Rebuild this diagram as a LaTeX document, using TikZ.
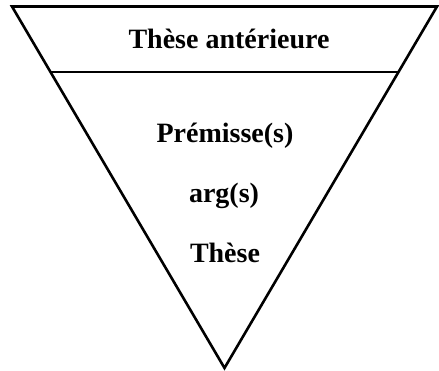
\documentclass[tikz,border=0pt]{standalone}
\usepackage{fontspec}
\setmainfont{Liberation Serif}
\usetikzlibrary{calc}
\begin{document}
\begin{tikzpicture}[x=1pt,y=1pt,
  edge/.style={line width=2.6pt,line join=miter},
  sep/.style={line width=1.8pt},
  lbl/.style={anchor=base,inner sep=0pt,font=\fontsize{28}{32}\selectfont\bfseries}]
\useasboundingbox (0,0) rectangle (439,-371);
\coordinate (tl) at (12,-6.5);
\coordinate (tr) at (437,-6.5);
\coordinate (ap) at (224.5,-368);
\draw[edge] (tl) -- (tr) -- (ap) -- cycle;
\coordinate (sl) at ($(tl)!0.181!(ap)$);
\coordinate (sr) at ($(tr)!0.181!(ap)$);
\draw[sep] (sl) -- (sr);
\node[lbl] (ta) at (229,-49) {Thèse antérieure};
\node[lbl] (pr) at (225,-143) {Prémisse(s)};
\node[lbl] (ar) at (224,-203) {arg(s)};
\node[lbl] (th) at (225,-263) {Thèse};
\end{tikzpicture}
\end{document}
